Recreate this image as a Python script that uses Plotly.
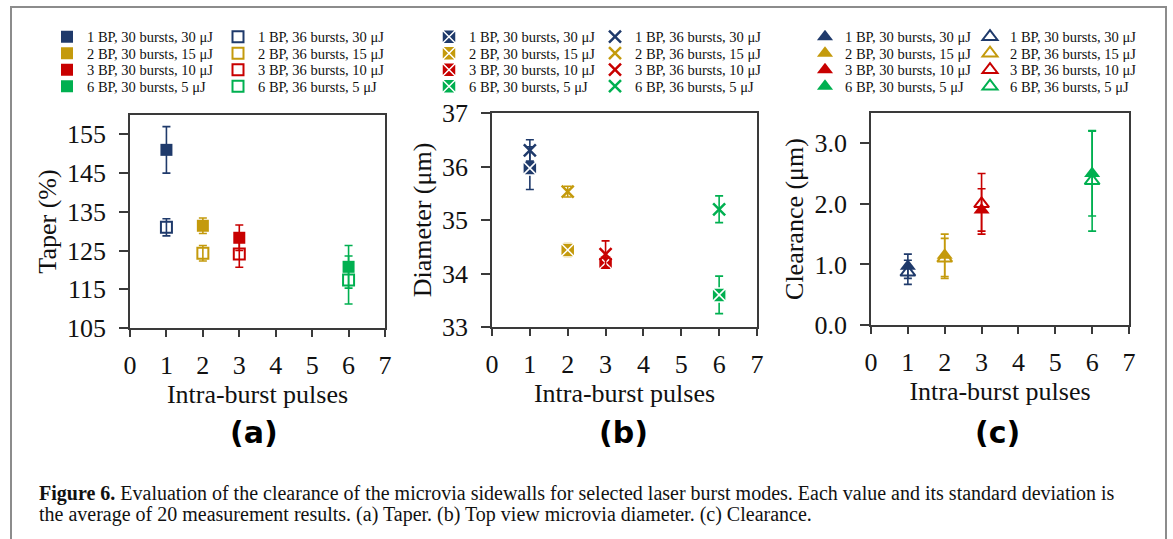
import plotly.graph_objects as go

W, H = 1173, 539

# ---------------- data ----------------
pulses = [1, 2, 3, 6]
bp_labels = ["1 BP", "2 BP", "3 BP", "6 BP"]
energy_labels = ["30 μJ", "15 μJ", "10 μJ", "5 μJ"]
colors = ["#1F3A6B", "#C49A0C", "#C80000", "#00B050"]

# (a) Taper (%)
taper_30 = [151.0, 131.4, 128.3, 120.8]
taper_30_sd = [6.0, 2.0, 3.3, 5.5]
taper_36 = [131.0, 124.3, 124.1, 117.4]
taper_36_sd = [2.2, 2.0, 3.4, 6.2]

# (b) Diameter (μm)
diam_30 = [35.97, 34.44, 34.20, 33.60]
diam_30_sd = [0.40, 0.13, 0.10, 0.35]
diam_36 = [36.30, 35.53, 34.36, 35.20]
diam_36_sd = [0.20, 0.10, 0.25, 0.25]

# (c) Clearance (μm)
clear_30 = [0.97, 1.15, 1.90, 2.50]
clear_30_sd = [0.20, 0.35, 0.35, 0.70]
clear_36 = [0.87, 1.10, 2.00, 2.38]
clear_36_sd = [0.20, 0.33, 0.50, 0.83]

# legend texts (panel c has "30 bursts" in its first right-hand entry, as in the original)
legend_30 = [f"{bp}, 30 bursts, {e}" for bp, e in zip(bp_labels, energy_labels)]
legend_36 = [f"{bp}, 36 bursts, {e}" for bp, e in zip(bp_labels, energy_labels)]
legend_36_c = ["1 BP, 30 bursts, 30 μJ"] + legend_36[1:]

x_range = [0, 7]
x_ticks = [0, 1, 2, 3, 4, 5, 6, 7]

# ---------------- layout helpers ----------------
def px(x):
    return x / W

def py(y):
    return 1 - y / H

SERIF = "Liberation Serif"
AX_COL = "#3a3a3a"
TXT = "#111"
FS = 26

panels = [
    dict(box=(130, 385, 115, 328), yr=[105, 160], y0=105, dt=10, mdt=5, fmt="",
         title="Taper (%)", y30=taper_30, s30=taper_30_sd, y36=taper_36, s36=taper_36_sd,
         sym30="square", sym36="square-open", size30=12, size36=11,
         n36=legend_36, leg_x=(87, 258), lab="(a)", lab_x=254),
    dict(box=(492, 757, 113, 327), yr=[33, 37], y0=33, dt=1, mdt=0.5, fmt="",
         title="Diameter (μm)", y30=diam_30, s30=diam_30_sd, y36=diam_36, s36=diam_36_sd,
         sym30="square-x", sym36="x-thin", size30=14, size36=12,
         n36=legend_36, leg_x=(469, 635), lab="(b)", lab_x=623),
    dict(box=(871, 1129, 113, 325), yr=[0, 3.5], y0=0, dt=1, mdt=0.25, fmt=".1f",
         title="Clearance (μm)", y30=clear_30, s30=clear_30_sd, y36=clear_36, s36=clear_36_sd,
         sym30="triangle-up", sym36="triangle-up-open", size30=14, size36=13,
         n36=legend_36_c, leg_x=(845, 1010), lab="(c)", lab_x=997),
]

row_y = [36.8, 53.3, 69.8, 86.3]
TEXT_OFFSET = 40  # legend text start relative to legend x

fig = go.Figure()
layout = dict(
    width=W, height=H, margin=dict(l=0, r=0, t=0, b=0),
    paper_bgcolor="white", plot_bgcolor="white", showlegend=True,
    font=dict(family=SERIF, color="black"),
)
annotations = []
leg_count = [0]


def new_legend(text_x, row_center):
    leg_count[0] += 1
    lid = "legend" if leg_count[0] == 1 else f"legend{leg_count[0]}"
    layout[lid] = dict(
        orientation="v", x=px(text_x - TEXT_OFFSET), xanchor="left",
        y=py(row_center), yanchor="middle", bgcolor="rgba(0,0,0,0)", borderwidth=0,
        font=dict(family=SERIF, size=14.5, color=TXT),
        itemclick=False, itemdoubleclick=False,
    )
    return lid


for p, P in enumerate(panels):
    xa = "x" if p == 0 else f"x{p+1}"
    ya = "y" if p == 0 else f"y{p+1}"
    l, r, t, b = P["box"]
    xkey = "xaxis" if p == 0 else f"xaxis{p+1}"
    ykey = "yaxis" if p == 0 else f"yaxis{p+1}"
    layout[xkey] = dict(
        domain=[px(l), px(r)], anchor=ya, range=x_range, tickvals=x_ticks,
        ticks="outside", ticklen=7, tickwidth=1.5, tickcolor=AX_COL,
        showline=True, linecolor=AX_COL, linewidth=1.5, mirror=True,
        showgrid=False, zeroline=False, automargin=False,
        tickfont=dict(family=SERIF, size=FS, color=TXT),
        ticklabelstandoff=6,
        title=dict(text="Intra-burst pulses", font=dict(family=SERIF, size=FS, color=TXT), standoff=0),
    )
    layout[ykey] = dict(
        domain=[py(b), py(t)], anchor=xa, range=P["yr"], tick0=P["y0"], dtick=P["dt"],
        tickformat=P["fmt"],
        ticks="outside", ticklen=9, tickwidth=1.5, tickcolor=AX_COL,
        showline=True, linecolor=AX_COL, linewidth=1.5, mirror=True,
        showgrid=False, zeroline=False, automargin=False,
        tickfont=dict(family=SERIF, size=FS, color=TXT),
        ticklabelstandoff=8,
        title=dict(text=P["title"], font=dict(family=SERIF, size=FS, color=TXT), standoff=3),
    )
    # overlay axes giving the inner half of the crossing ticks and the minor ticks
    oxkey, oykey = f"xaxis{p+4}", f"yaxis{p+4}"
    layout[oxkey] = dict(
        overlaying=xa, anchor=ya, side="bottom", range=x_range, tickvals=x_ticks,
        ticks="inside", ticklen=7, tickwidth=1.5, tickcolor=AX_COL,
        showticklabels=False, showline=False, showgrid=False, zeroline=False, automargin=False,
    )
    layout[oykey] = dict(
        overlaying=ya, anchor=xa, side="left", range=P["yr"], tick0=P["y0"], dtick=P["mdt"],
        ticks="inside", ticklen=5, tickwidth=1.5, tickcolor=AX_COL,
        showticklabels=False, showline=False, showgrid=False, zeroline=False, automargin=False,
    )

    for i in range(4):
        c = colors[i]
        # 30 bursts
        if P["sym30"] == "square-x":
            m30 = dict(symbol="square-x", size=P["size30"], color=c, line=dict(color="white", width=1.5))
        else:
            m30 = dict(symbol=P["sym30"], size=P["size30"], color=c, line=dict(color=c, width=0))
        fig.add_trace(go.Scatter(
            x=[pulses[i]], y=[P["y30"][i]], mode="markers", xaxis=xa, yaxis=ya,
            name=legend_30[i], legend=new_legend(P["leg_x"][0], row_y[i]), marker=m30,
            error_y=dict(type="data", array=[P["s30"][i]], visible=True, color=c, thickness=1.6, width=4),
        ))
        # 36 bursts
        if P["sym36"] == "x-thin":
            m36 = dict(symbol="x-thin", size=P["size36"], color=c, line=dict(color=c, width=2.5))
        else:
            m36 = dict(symbol=P["sym36"], size=P["size36"], color=c, line=dict(color=c, width=2))
        fig.add_trace(go.Scatter(
            x=[pulses[i]], y=[P["y36"][i]], mode="markers", xaxis=xa, yaxis=ya,
            name=P["n36"][i], legend=new_legend(P["leg_x"][1], row_y[i]), marker=m36,
            error_y=dict(type="data", array=[P["s36"][i]], visible=True, color=c, thickness=1.6, width=4),
        ))

    annotations.append(dict(
        text=P["lab"], x=px(P["lab_x"]), y=py(432), xref="paper", yref="paper",
        xanchor="center", yanchor="middle", showarrow=False,
        font=dict(family="DejaVu Sans", size=30, color="black", weight="bold"),
    ))

annotations.append(dict(
    text="<b>Figure 6.</b> Evaluation of the clearance of the microvia sidewalls for selected laser burst modes. Each value and its standard deviation is",
    x=px(37), y=py(493), xref="paper", yref="paper", xanchor="left", yanchor="middle",
    showarrow=False, font=dict(family=SERIF, size=20, color=TXT),
))
annotations.append(dict(
    text="the average of 20 measurement results. (a) Taper. (b) Top view microvia diameter. (c) Clearance.",
    x=px(37), y=py(514), xref="paper", yref="paper", xanchor="left", yanchor="middle",
    showarrow=False, font=dict(family=SERIF, size=20, color=TXT),
))

layout["annotations"] = annotations
layout["shapes"] = [dict(
    type="rect", xref="paper", yref="paper", x0=px(11), x1=px(1166), y0=-0.05, y1=py(7),
    line=dict(color="#8c8c8c", width=2), fillcolor="rgba(0,0,0,0)", layer="below",
)]

fig.update_layout(**layout)
fig.write_html("out.html")
